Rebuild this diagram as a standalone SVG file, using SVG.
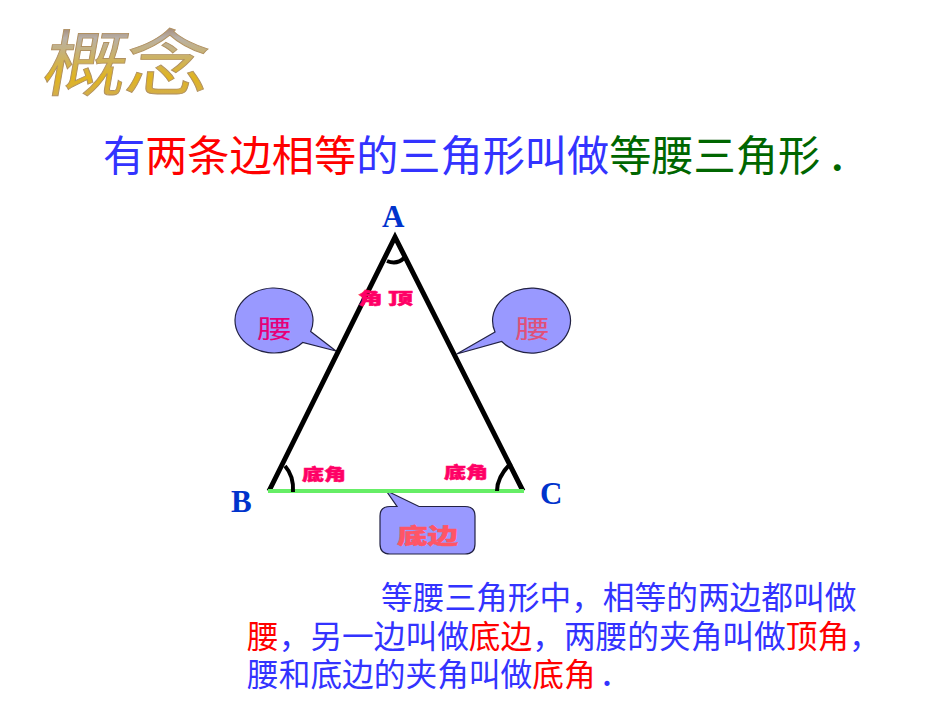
<svg xmlns="http://www.w3.org/2000/svg" width="950" height="713" viewBox="0 0 950 713">
<defs>
<linearGradient id="g" x1="0" y1="0" x2="0" y2="1"><stop offset="0" stop-color="#7a3a10"/><stop offset=".3" stop-color="#b8b0a8"/><stop offset=".68" stop-color="#e0b420"/><stop offset="1" stop-color="#c8a870"/></linearGradient>
</defs>
<style>
text{font-family:"Noto Sans CJK SC",sans-serif}
.b{fill:#3333ff}.r{fill:#ff0000}.gr{fill:#006600}
.t{font-size:42.2px}
.p{font-size:31.7px}
.l{font-family:"Liberation Serif",serif;font-weight:bold;font-size:31px;fill:#0033cc}
.s{font-weight:900;font-size:16px;fill:#ff0066;stroke:#ff0066;stroke-width:.5}
.c{fill:#9999ff;stroke:#222244;stroke-width:1.2}
.e{fill:none;stroke:#000;stroke-width:4}
.ti{font-size:84px;fill:url(#g);stroke:#b09060;stroke-width:1;font-weight:400}
.dot{font-family:"Liberation Serif",serif;font-weight:bold}
</style>
<g id="title">
<text class="ti" x="0" y="0" transform="translate(40 90) skewX(-10) scale(1 .86)">概</text>
<text class="ti" x="0" y="0" transform="translate(123 90) skewX(-6) scale(1 .86)">念</text>
</g>
<g id="definition"><text x="103" y="171" class="t"><tspan class="b">有</tspan><tspan class="r">两条边相等</tspan><tspan class="b">的三角形叫做</tspan><tspan class="gr">等腰三角形</tspan><tspan class="gr dot" x="832">.</tspan></text></g>
<g id="callouts">
<path id="callout-left" class="c" d="M302.7 342.500A39 32.500 0 1 1 310.700 331.500L336 351Z"/>
<path id="callout-right" class="c" d="M501.700 341.500A39 32.500 0 1 0 495 331.900L456.700 354Z"/>
<path id="callout-bottom" class="c" d="M386 490.500L419 506.500H465Q475 506.500 475 516V544Q475 554 465 554H390Q380 554 380 544V516Q380 506.500 390 506.500H397Z"/>
</g>
<g id="triangle">
<path d="M269 491L395 237L523 491" fill="none" stroke="#000" stroke-width="5"/>
<line x1="268" y1="491" x2="524" y2="491" stroke="#66ee66" stroke-width="4"/>
<path class="e" d="M387 261Q397 265 404 258"/>
<path class="e" d="M285 466Q294 476 293 492"/>
<path class="e" d="M497 491Q497 477 511 463"/>
</g>
<g id="labels">
<text class="l" x="382" y="227">A</text><text class="l" x="231" y="512">B</text><text class="l" x="540" y="504">C</text>
<text class="s" x="358" y="304" textLength="55" lengthAdjust="spacingAndGlyphs" xml:space="preserve">角 顶</text>
<text class="s" x="302" y="480" textLength="44" lengthAdjust="spacingAndGlyphs">底角</text><text class="s" x="444" y="478" textLength="44" lengthAdjust="spacingAndGlyphs">底角</text>
<text x="257" y="338" font-size="25" fill="#e6007a" textLength="35" lengthAdjust="spacingAndGlyphs">腰</text>
<text x="515" y="338" font-size="25" fill="#e0507a" textLength="35" lengthAdjust="spacingAndGlyphs">腰</text>
<text x="397" y="543" font-size="21" font-weight="900" fill="#ff5566" stroke="#ff5566" stroke-width=".5" textLength="61" lengthAdjust="spacingAndGlyphs">底边</text>
</g>
<g id="paragraph">
<text class="p" x="381" y="609"><tspan class="b">等腰三角形中，相等的两边都叫做</tspan></text>
<text class="p" x="247" y="648"><tspan class="r">腰</tspan><tspan class="b">，另一边叫做</tspan><tspan class="r">底边</tspan><tspan class="b">，两腰的夹角叫做</tspan><tspan class="r">顶角</tspan><tspan class="b">，</tspan></text>
<text class="p" x="247" y="686"><tspan class="b">腰和底边的夹角叫做</tspan><tspan class="r">底角</tspan><tspan class="b dot" x="603">.</tspan></text>
</g>
</svg>
